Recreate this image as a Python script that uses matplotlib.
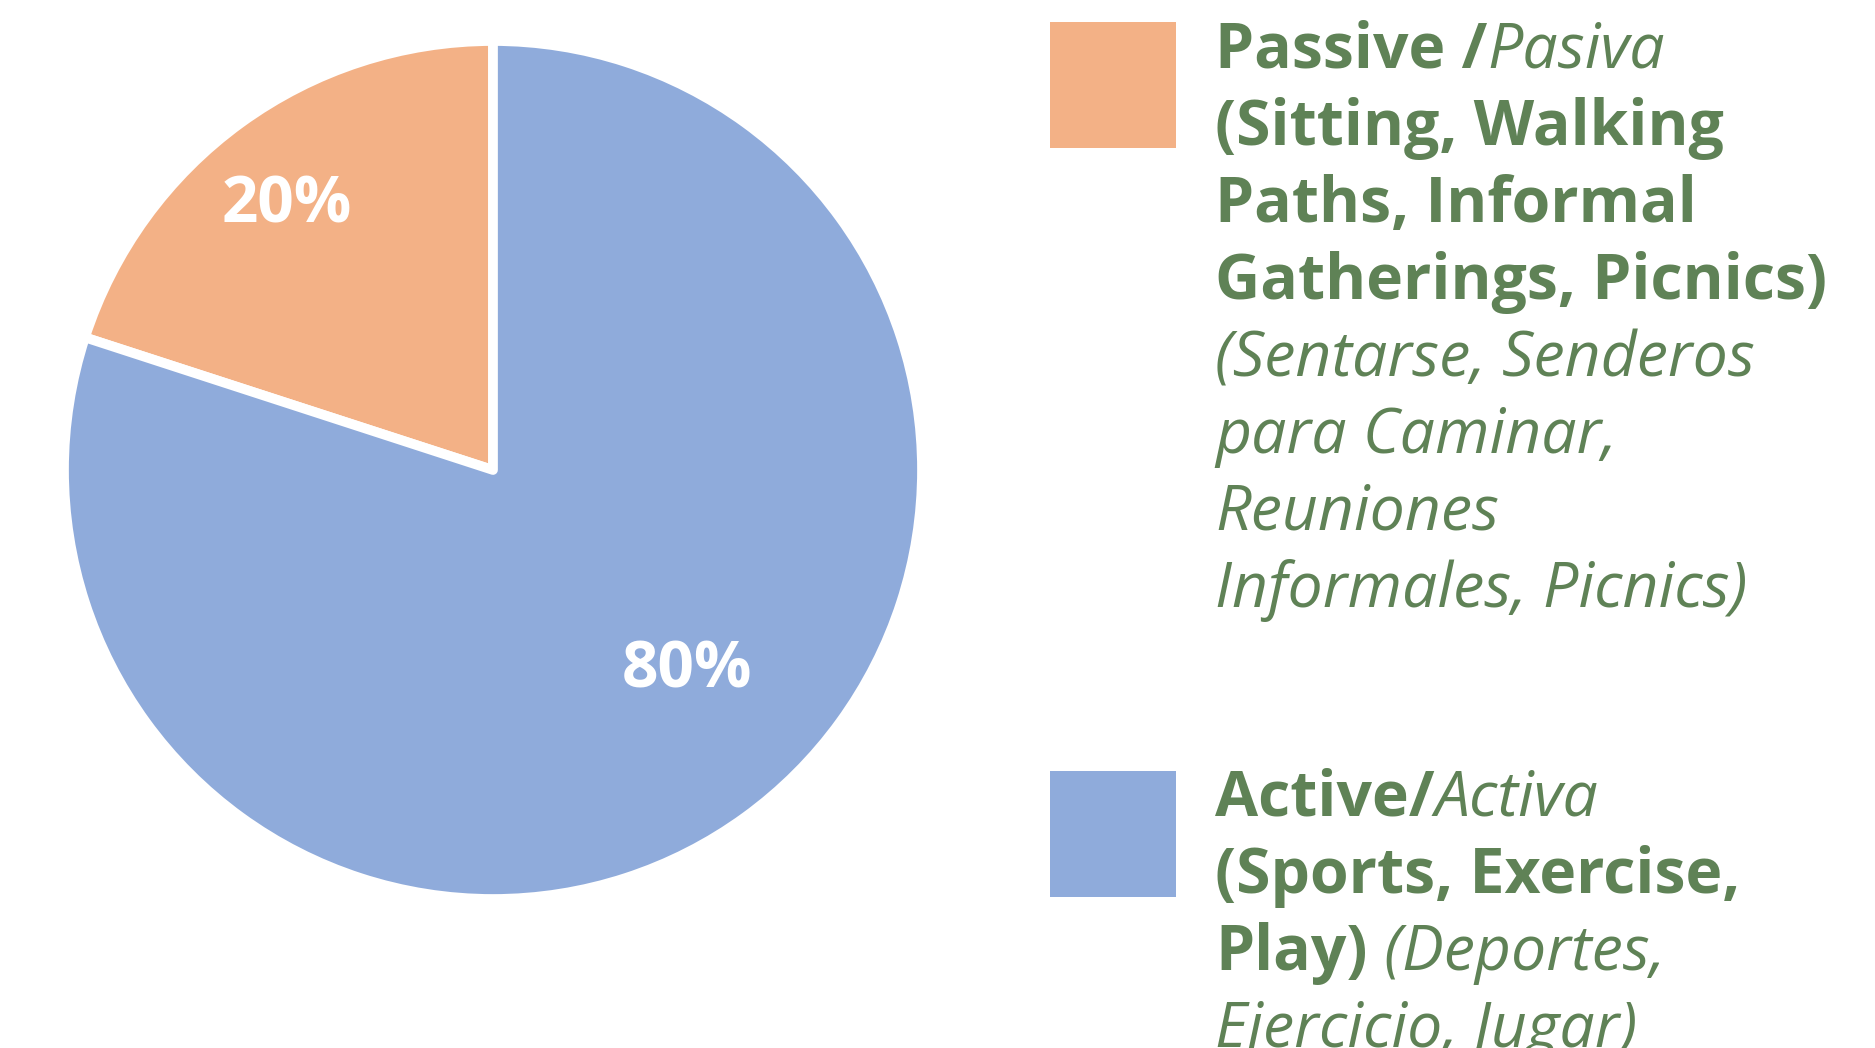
import numpy as np
import matplotlib.pyplot as plt
from matplotlib.patches import Rectangle

# data
labels = ["Passive", "Active"]
shares = [20, 80]
colors = ["#F3B186", "#8FABDB"]
text_green = "#5F8256"

legend_lines = [
    [
        [("Passive /", "bold"), ("Pasiva", "italic")],
        [("(Sitting, Walking", "bold")],
        [("Paths, Informal", "bold")],
        [("Gatherings, Picnics)", "bold")],
        [("(Sentarse, Senderos", "italic")],
        [("para Caminar,", "italic")],
        [("Reuniones", "italic")],
        [("Informales, Picnics)", "italic")],
    ],
    [
        [("Active/", "bold"), ("Activa", "italic")],
        [("(Sports, Exercise,", "bold")],
        [("Play)", "bold"), (" (Deportes,", "italic")],
        [("Ejercicio, Jugar)", "italic")],
    ],
]

W, H = 1875, 1048
fig = plt.figure(figsize=(W / 100, H / 100), dpi=100)
plt.rcParams['font.family'] = ['Open Sans', 'DejaVu Sans']

# pie
side = 858
ax = fig.add_axes([(493 - side / 2) / W, (H - 470 - side / 2) / H, side / W, side / H])
wedges, _ = ax.pie(shares, colors=colors, startangle=90, counterclock=True,
                   wedgeprops=dict(edgecolor="white", linewidth=7, joinstyle="round"))
ax.set_xlim(-1, 1)
ax.set_ylim(-1, 1)
ax.set_aspect("equal")
ax.axis("off")

# percentage labels
label_pos = [(0.78, 128), (0.65, -46)]
for val, (r, ang) in zip(shares, label_pos):
    a = np.deg2rad(ang)
    ax.text(r * np.cos(a), r * np.sin(a), f"{val}%", color="white",
            fontsize=46, fontweight="bold", ha="center", va="center")

# legend
box_tops = [22, 771]
first_baselines = [68, 816]
line_step = 77
x_text = 1215
fsize = 45
renderer = fig.canvas.get_renderer()

for i, block in enumerate(legend_lines):
    fig.patches.append(Rectangle((1050 / W, 1 - (box_tops[i] + 126) / H), 126 / W, 126 / H,
                                 transform=fig.transFigure, facecolor=colors[i],
                                 edgecolor="none"))
    for j, segs in enumerate(block):
        y = 1 - (first_baselines[i] + j * line_step) / H
        x = x_text
        for txt, style in segs:
            if style == "bold":
                t = fig.text(x / W, y, txt, fontsize=fsize, fontweight="bold",
                             color=text_green, va="baseline", ha="left")
            else:
                t = fig.text(x / W, y, txt, fontsize=fsize, fontstyle="italic",
                             fontweight="normal", color=text_green,
                             va="baseline", ha="left")
            x += t.get_window_extent(renderer=renderer).width

fig.savefig("out.png", dpi=100)
